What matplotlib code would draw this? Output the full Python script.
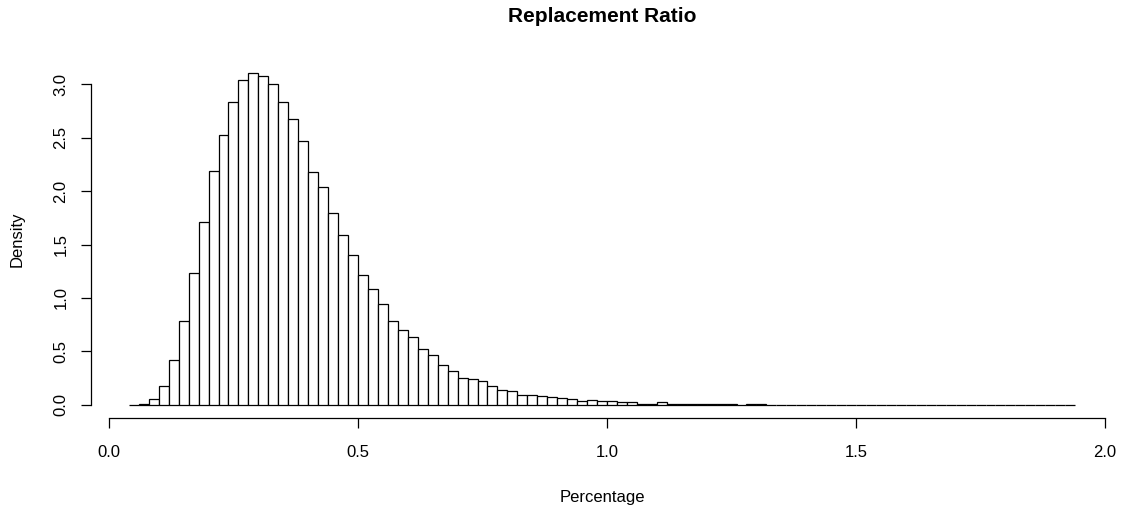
import numpy as np
import matplotlib
matplotlib.use("Agg")
import matplotlib.pyplot as plt

plt.rcParams['font.family'] = ['Liberation Sans', 'DejaVu Sans']

# Histogram of replacement ratios: bins of width 0.02 starting at 0.04
bin_start = 0.04
bin_width = 0.02
density = [
    0.002, 0.010, 0.056, 0.179, 0.417, 0.780, 1.237, 1.714, 2.193, 2.531,
    2.835, 3.042, 3.105, 3.083, 3.008, 2.835, 2.679, 2.469, 2.180, 2.043,
    1.798, 1.588, 1.400, 1.219, 1.084, 0.946, 0.786, 0.702, 0.639, 0.520,
    0.467, 0.373, 0.316, 0.254, 0.241, 0.219, 0.179, 0.138, 0.125, 0.094,
    0.094, 0.081, 0.072, 0.063, 0.053, 0.034, 0.047, 0.034, 0.031, 0.025,
    0.022, 0.009, 0.009, 0.025, 0.009, 0.009, 0.004, 0.004, 0.004, 0.004,
    0.004, 0.000, 0.008, 0.008, 0.000, 0.000, 0.000, 0.000, 0.000, 0.000,
    0.000, 0.000, 0.000, 0.000, 0.000, 0.000, 0.000, 0.000, 0.000, 0.000,
    0.000, 0.000, 0.000, 0.000, 0.000, 0.000, 0.000, 0.000, 0.000, 0.000,
    0.000, 0.000, 0.000, 0.000, 0.001,
]
x_ticks = [0.0, 0.5, 1.0, 1.5, 2.0]
x_tick_labels = ["0.0", "0.5", "1.0", "1.5", "2.0"]
y_ticks = [0.0, 0.5, 1.0, 1.5, 2.0, 2.5, 3.0]
y_tick_labels = ["0.0", "0.5", "1.0", "1.5", "2.0", "2.5", "3.0"]

edges = bin_start + bin_width * np.arange(len(density))

W, H = 1121, 508
fig = plt.figure(figsize=(W / 100, H / 100), dpi=100)
ax = fig.add_axes([0.0812, 0.1772, 0.9117, 0.7047])

ax.bar(edges, density, width=bin_width, align='edge',
       facecolor='white', edgecolor='black', linewidth=0.9)

# axis ranges padded like base R graphics (4% each side)
xmin, xmax = edges[0], edges[-1] + bin_width
xpad = 0.04 * (xmax - xmin)
ymax = max(density)
ypad = 0.04 * ymax
ax.set_xlim(xmin - xpad, xmax + xpad)
ax.set_ylim(-ypad, ymax + ypad)

for side in ('top', 'right'):
    ax.spines[side].set_visible(False)
ax.spines['left'].set_bounds(y_ticks[0], y_ticks[-1])
ax.spines['bottom'].set_bounds(x_ticks[0], x_ticks[-1])
for side in ('left', 'bottom'):
    ax.spines[side].set_linewidth(0.9)

ax.set_xticks(x_ticks)
ax.set_xticklabels(x_tick_labels)
ax.set_yticks(y_ticks)
ax.set_yticklabels(y_tick_labels, rotation=90, va='center')
ax.tick_params(axis='both', length=7.2, width=0.9, labelsize=12,
               colors='black')
ax.tick_params(axis='x', pad=12)
ax.tick_params(axis='y', pad=9)

# axis titles and main title placed in the figure margins
ax_box = ax.get_position()
x_mid = (ax_box.x0 + ax_box.x1) / 2
y_mid = (ax_box.y0 + ax_box.y1) / 2
fig.text(x_mid, 1 - 502 / H, "Percentage", fontsize=12,
         ha='center', va='baseline')
fig.text(22 / W, y_mid, "Density", fontsize=12, rotation=90,
         rotation_mode='anchor', ha='center', va='baseline')
fig.text(x_mid, 1 - 22 / H, "Replacement Ratio", fontsize=15,
         fontweight='bold', ha='center', va='baseline')

fig.savefig("out.png", dpi=100)
